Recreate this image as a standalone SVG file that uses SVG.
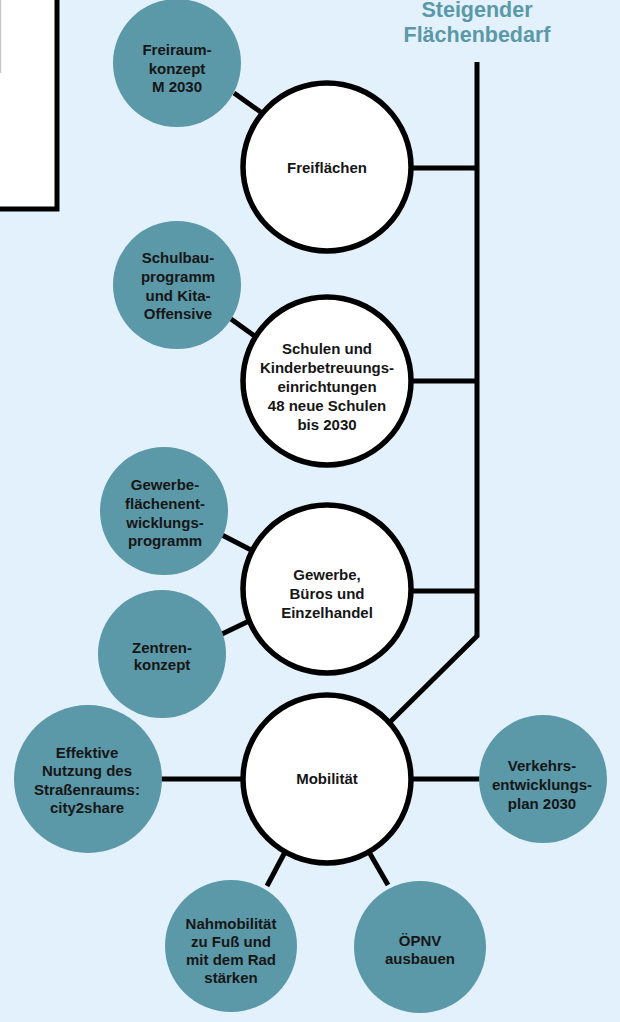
<svg xmlns="http://www.w3.org/2000/svg" width="620" height="1022" viewBox="0 0 620 1022">
<style>
.bg{fill:#e2f1fb}
.main{fill:#ffffff;stroke:#000;stroke-width:5.5}
.sub{fill:#5b98a8}
.ln{stroke:#000;stroke-width:5;fill:none;stroke-linejoin:miter}
text{font-family:"Liberation Sans",Arial,sans-serif;font-weight:bold;font-size:15px;fill:#161616;text-anchor:middle}
.title{font-size:21.5px;fill:#5b98a8}
</style>
<rect class="bg" x="0" y="0" width="620" height="1022"/>
<g id="box">
<rect x="-5" y="-5" width="62" height="214" fill="#ffffff" stroke="#000" stroke-width="5"/>
<line x1="0.5" y1="0" x2="0.5" y2="73" stroke="#c8c8c8" stroke-width="1.5"/>
</g>
<g id="title">
<text class="title" x="477" y="17">Steigender</text>
<text class="title" x="477" y="42">Flächenbedarf</text>
</g>
<g id="connectors">
<polyline class="ln" points="477,62 477,636 390,722"/>
<line class="ln" x1="410" y1="168" x2="477" y2="168"/>
<line class="ln" x1="410" y1="381" x2="477" y2="381"/>
<line class="ln" x1="410" y1="591" x2="477" y2="591"/>
<line class="ln" x1="234" y1="93" x2="262" y2="113"/>
<line class="ln" x1="231" y1="319" x2="256" y2="337"/>
<line class="ln" x1="222" y1="535" x2="253" y2="551"/>
<line class="ln" x1="222" y1="634" x2="249" y2="621"/>
<line class="ln" x1="161" y1="779" x2="244" y2="779"/>
<line class="ln" x1="410" y1="779" x2="481" y2="779"/>
<line class="ln" x1="285" y1="852" x2="267" y2="886"/>
<line class="ln" x1="369" y1="852" x2="388" y2="885"/>
</g>
<g id="freiraum">
<circle class="sub" cx="177" cy="63" r="64"/>
<text x="177" y="54.5">Freiraum-</text>
<text x="177" y="73.5">konzept</text>
<text x="177" y="92">M 2030</text>
</g>
<g id="freiflaechen">
<circle class="main" cx="327" cy="167" r="84"/>
<text x="327" y="173">Freiflächen</text>
</g>
<g id="schulbau">
<circle class="sub" cx="177" cy="285" r="64"/>
<text x="178" y="262.5">Schulbau-</text>
<text x="178" y="281.5">programm</text>
<text x="178" y="300.5">und Kita-</text>
<text x="178" y="319">Offensive</text>
</g>
<g id="schulen">
<circle class="main" cx="327" cy="381" r="84"/>
<text x="327" y="353.5">Schulen und</text>
<text x="327" y="372.5">Kinderbetreuungs-</text>
<text x="327" y="392">einrichtungen</text>
<text x="327" y="411">48 neue Schulen</text>
<text x="327" y="429.5">bis 2030</text>
</g>
<g id="gewerbeflaechen">
<circle class="sub" cx="164" cy="511" r="64"/>
<text x="165" y="489.5">Gewerbe-</text>
<text x="165" y="508.5">flächenent-</text>
<text x="165" y="528">wicklungs-</text>
<text x="165" y="546">programm</text>
</g>
<g id="zentren">
<circle class="sub" cx="162" cy="654" r="64"/>
<text x="162" y="652.5">Zentren-</text>
<text x="162" y="670">konzept</text>
</g>
<g id="gewerbe">
<circle class="main" cx="327" cy="589" r="84"/>
<text x="327" y="580">Gewerbe,</text>
<text x="327" y="599">Büros und</text>
<text x="327" y="617.5">Einzelhandel</text>
</g>
<g id="mobilitaet">
<circle class="main" cx="327" cy="779" r="84"/>
<text x="327" y="784">Mobilität</text>
</g>
<g id="effektive">
<circle class="sub" cx="88" cy="779" r="74"/>
<text x="87" y="757.5">Effektive</text>
<text x="87" y="776">Nutzung des</text>
<text x="87" y="794.5">Straßenraums:</text>
<text x="87" y="813">city2share</text>
</g>
<g id="verkehr">
<circle class="sub" cx="543" cy="779" r="64"/>
<text x="542" y="770.5">Verkehrs-</text>
<text x="542" y="789.5">entwicklungs-</text>
<text x="542" y="808.5">plan 2030</text>
</g>
<g id="nahmobilitaet">
<circle class="sub" cx="231" cy="946" r="66"/>
<text x="231" y="928.5">Nahmobilität</text>
<text x="231" y="947">zu Fuß und</text>
<text x="231" y="965">mit dem Rad</text>
<text x="231" y="983">stärken</text>
</g>
<g id="oepnv">
<circle class="sub" cx="420" cy="947" r="66"/>
<text x="420" y="945.5">ÖPNV</text>
<text x="420" y="964">ausbauen</text>
</g>
</svg>
